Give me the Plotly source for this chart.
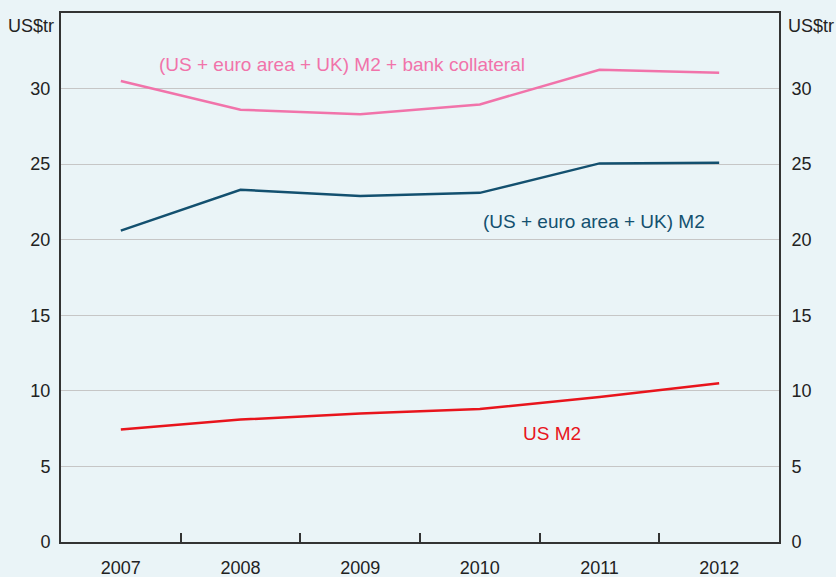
import plotly.graph_objects as go

years = ["2007", "2008", "2009", "2010", "2011", "2012"]
us_m2 = [7.45, 8.1, 8.5, 8.8, 9.6, 10.5]
combined_m2 = [20.6, 23.3, 22.9, 23.1, 25.05, 25.1]
m2_collateral = [30.5, 28.6, 28.3, 28.95, 31.25, 31.05]

bg = "#eaf4f7"
axis_col = "#333333"
font = dict(family="Liberation Sans, Arial, sans-serif", size=18, color="#222222")

fig = go.Figure()
fig.add_trace(go.Scatter(x=years, y=m2_collateral, mode="lines",
                         line=dict(color="#f173aa", width=2.5)))
fig.add_trace(go.Scatter(x=years, y=combined_m2, mode="lines",
                         line=dict(color="#13506f", width=2.5)))
fig.add_trace(go.Scatter(x=years, y=us_m2, mode="lines",
                         line=dict(color="#e8141c", width=2.5)))
# invisible trace so the right-hand axis gets drawn
fig.add_trace(go.Scatter(x=years, y=us_m2, yaxis="y2", mode="lines",
                         line=dict(width=0), opacity=0, hoverinfo="skip"))

fig.update_layout(
    width=836, height=577,
    margin=dict(l=61, r=57, t=13, b=35),
    paper_bgcolor=bg, plot_bgcolor=bg,
    showlegend=False,
    font=font,
    xaxis=dict(type="category", range=[-0.5, 5.5], tickson="boundaries",
               ticks="inside", ticklen=9, tickwidth=1.5, tickcolor=axis_col,
               showline=True, linecolor=axis_col, linewidth=2, mirror=True,
               showgrid=False, zeroline=False, automargin=False,
               ticklabelstandoff=8),
    yaxis=dict(range=[0, 35], tickvals=[0, 5, 10, 15, 20, 25, 30],
               showgrid=True, gridcolor="#c6c6c6", gridwidth=1,
               showline=True, linecolor=axis_col, linewidth=2, mirror=True,
               zeroline=False, ticks="outside", ticklen=5,
               tickcolor="rgba(0,0,0,0)", automargin=False),
    yaxis2=dict(range=[0, 35], tickvals=[0, 5, 10, 15, 20, 25, 30],
                overlaying="y", side="right", showgrid=False, zeroline=False,
                showline=False, ticks="outside", ticklen=8,
                tickcolor="rgba(0,0,0,0)", automargin=False),
    annotations=[
        dict(text="US$tr", xref="paper", yref="paper", x=-0.007, y=0.975,
             xanchor="right", yanchor="middle", showarrow=False),
        dict(text="US$tr", xref="paper", yref="paper", x=1.010, y=0.975,
             xanchor="left", yanchor="middle", showarrow=False),
        dict(text="(US + euro area + UK) M2 + bank collateral", x=1.85, y=31.6,
             xref="x", yref="y", showarrow=False,
             font=dict(color="#f173aa", size=19)),
        dict(text="(US + euro area + UK) M2", x=3.95, y=21.2,
             xref="x", yref="y", showarrow=False,
             font=dict(color="#13506f", size=19)),
        dict(text="US M2", x=3.6, y=7.2,
             xref="x", yref="y", showarrow=False,
             font=dict(color="#e8141c", size=19)),
    ],
)

fig.write_html("out.html", config={"displayModeBar": False},
               post_script="document.body.style.margin='0';"
                           "document.body.style.background='#eaf4f7';")
